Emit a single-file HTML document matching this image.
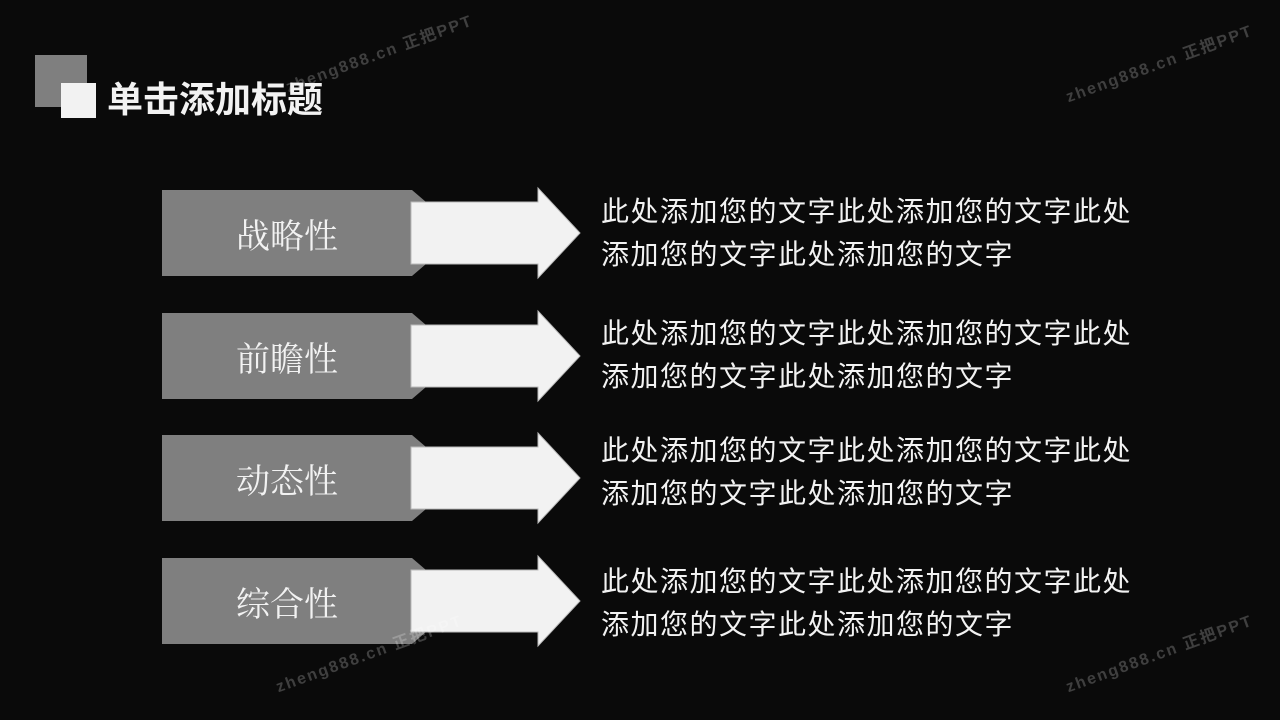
<!DOCTYPE html>
<html><head><meta charset="utf-8"><style>
body{margin:0;width:1280px;height:720px;background:#0a0a0a;overflow:hidden;position:relative;font-family:"Liberation Sans","Noto Sans CJK SC",sans-serif}
.a{position:absolute}
.t{color:#f2f2f2;font-size:28px;letter-spacing:1.5px;line-height:43px;left:601px;white-space:nowrap}
.l{color:#f2f2f2;font-size:34px;font-family:"Liberation Serif","Noto Serif CJK SC",serif;width:250px;text-align:center;left:162px}
.wm{color:rgba(255,255,255,0.22);font-size:16px;font-weight:bold;transform:rotate(-20deg);white-space:nowrap;letter-spacing:2px}
</style></head><body>
<div class="a" style="left:35px;top:55px;width:52px;height:52px;background:#7f7f7f"></div>
<div class="a" style="left:61px;top:83px;width:35px;height:35px;background:#f2f2f2"></div>
<div class="a" style="left:107px;top:78px;font-size:36px;line-height:44px;font-weight:bold;color:#f2f2f2">单击添加标题</div>
<svg class="a" style="left:0;top:0" width="1280" height="720">
<g id="r">
<polygon points="162,190 412,190 426,202 426,264 412,276 162,276" fill="#7f7f7f"/>
<polygon points="411,202 538,202 538,188 580,233 538,278 538,264 411,264" fill="#f2f2f2" stroke="#bbb" stroke-width="1"/>
</g>
<use href="#r" y="123"/><use href="#r" y="245"/><use href="#r" y="368"/>
</svg>
<div class="a l" style="top:209px">战略性</div>
<div class="a l" style="top:332px">前瞻性</div>
<div class="a l" style="top:454px">动态性</div>
<div class="a l" style="top:577px">综合性</div>
<div class="a t" style="top:190px">此处添加您的文字此处添加您的文字此处<br>添加您的文字此处添加您的文字</div>
<div class="a t" style="top:312px">此处添加您的文字此处添加您的文字此处<br>添加您的文字此处添加您的文字</div>
<div class="a t" style="top:429px">此处添加您的文字此处添加您的文字此处<br>添加您的文字此处添加您的文字</div>
<div class="a t" style="top:560px">此处添加您的文字此处添加您的文字此处<br>添加您的文字此处添加您的文字</div>
<div class="a wm" style="left:280px;top:40px">zheng888.cn 正把PPT</div>
<div class="a wm" style="left:1060px;top:50px">zheng888.cn 正把PPT</div>
<div class="a wm" style="left:270px;top:640px">zheng888.cn 正把PPT</div>
<div class="a wm" style="left:1060px;top:640px">zheng888.cn 正把PPT</div>
</body></html>
